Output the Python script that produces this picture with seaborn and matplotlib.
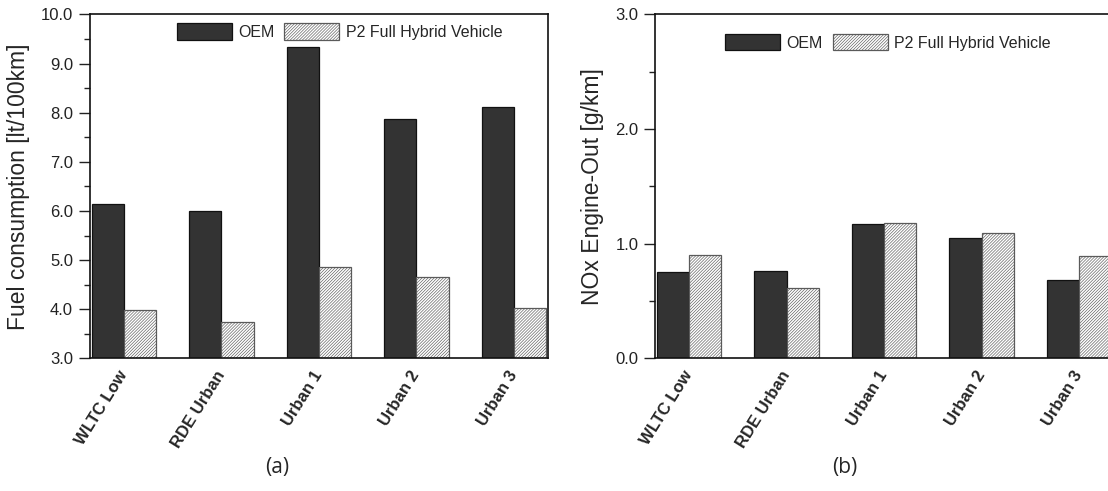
import numpy as np
import pandas as pd
import matplotlib
matplotlib.use("Agg")
import matplotlib.pyplot as plt
from matplotlib.patches import Patch
from matplotlib.ticker import MultipleLocator, FormatStrFormatter
import seaborn as sns

cycles = ["WLTC Low", "RDE Urban", "Urban 1", "Urban 2", "Urban 3"]
series = ["OEM", "P2 Full Hybrid Vehicle"]
fuel_oem = [6.15, 5.99, 9.33, 7.88, 8.11]
fuel_hev = [3.98, 3.75, 4.87, 4.65, 4.02]
nox_oem = [0.75, 0.76, 1.175, 1.05, 0.68]
nox_hev = [0.90, 0.61, 1.18, 1.095, 0.89]

sns.set_style("ticks")
plt.rcParams["font.family"] = ["Liberation Sans", "DejaVu Sans"]
plt.rcParams["hatch.linewidth"] = 0.45

fig = plt.figure(figsize=(11.08, 4.91), dpi=100)
ax1 = fig.add_axes([0.081, 0.27, 0.4136, 0.7006])
ax2 = fig.add_axes([0.5912, 0.27, 0.4134, 0.7006])

oem_color = "#333333"
hev_face = "#ffffff"
hev_edge = "#5a5a5a"
hatch = "/" * 11


def make_df(a, b):
    return pd.DataFrame({
        "cycle": cycles * 2,
        "series": [series[0]] * len(cycles) + [series[1]] * len(cycles),
        "value": list(a) + list(b),
    })


def draw(ax, a, b, ylim, major, minor, ylabel, leg_anchor):
    df = make_df(a, b)
    sns.barplot(data=df, x="cycle", y="value", hue="series", order=cycles,
                hue_order=series, width=0.66, gap=0, ax=ax, legend=False,
                palette=[oem_color, hev_face], saturation=1)
    for bar in ax.containers[0]:
        bar.set_facecolor(oem_color)
        bar.set_edgecolor("#111111")
        bar.set_linewidth(0.9)
    for bar in ax.containers[1]:
        bar.set_facecolor(hev_face)
        bar.set_edgecolor(hev_edge)
        bar.set_hatch(hatch)
        bar.set_linewidth(0.9)
    ax.set_xlim(-0.35, 4.35)
    ax.set_ylim(*ylim)
    ax.yaxis.set_major_locator(MultipleLocator(major))
    ax.yaxis.set_minor_locator(MultipleLocator(minor))
    ax.yaxis.set_major_formatter(FormatStrFormatter("%.1f"))
    ax.tick_params(axis="y", which="major", direction="out", length=8,
                   width=1.0, labelsize=12, pad=4, colors="#222222")
    ax.tick_params(axis="y", which="minor", direction="out", length=4.5,
                   width=1.0, colors="#222222")
    ax.tick_params(axis="x", length=0, pad=10)
    ax.set_xlabel("")
    ax.set_ylabel(ylabel, fontsize=16.5, labelpad=8)
    for lab in ax.get_xticklabels():
        lab.set_rotation(58)
        lab.set_ha("right")
        lab.set_va("center")
        lab.set_rotation_mode("anchor")
        lab.set_fontweight("bold")
        lab.set_fontsize(12)
    for s in ax.spines.values():
        s.set_visible(True)
        s.set_linewidth(1.2)
        s.set_color("#111111")
    handles = [Patch(facecolor=oem_color, edgecolor="#111111", linewidth=0.9),
               Patch(facecolor=hev_face, edgecolor=hev_edge, hatch=hatch,
                     linewidth=0.9)]
    ax.legend(handles, series, loc="upper left", bbox_to_anchor=leg_anchor,
              ncol=2, frameon=False, fontsize=11.5, handlelength=3.45,
              handleheight=1.2, handletextpad=0.4, columnspacing=0.6,
              borderpad=0, borderaxespad=0)


draw(ax1, fuel_oem, fuel_hev, (3.0, 10.0), 1.0, 0.5,
     "Fuel consumption [lt/100km]", (0.19, 0.974))
draw(ax2, nox_oem, nox_hev, (0.0, 3.0), 1.0, 0.5,
     "NOx Engine-Out [g/km]", (0.153, 0.943))

fig.text(0.25, 0.047, "(a)", fontsize=15, family=["Open Sans", "DejaVu Sans"],
         ha="center", va="center")
fig.text(0.762, 0.047, "(b)", fontsize=15, family=["Open Sans", "DejaVu Sans"],
         ha="center", va="center")

fig.savefig("out.png", dpi=100)
